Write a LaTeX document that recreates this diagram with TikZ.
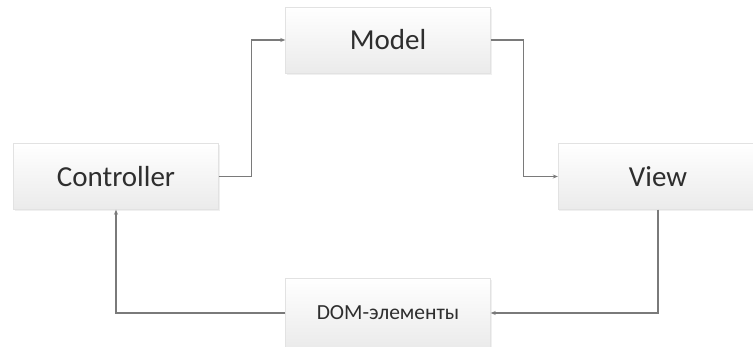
\documentclass[tikz,border=0pt]{standalone}
\usepackage{fontspec}
\setmainfont{Carlito}
\usetikzlibrary{shadows,arrows.meta}
\definecolor{boxline}{HTML}{E2E2E2}
\definecolor{wire}{HTML}{7A7A7A}
\definecolor{ink}{HTML}{2E2E2E}
\tikzset{
  block/.style={rectangle, draw=boxline, top color=white, bottom color=black!8,
    drop shadow={opacity=0.12, shadow xshift=1pt, shadow yshift=-2pt},
    minimum width=205pt, minimum height=66pt, inner sep=0pt, text=ink,
    font=\fontsize{29}{34}\selectfont},
  wireline/.style={draw=wire, line width=1.3pt, -{Stealth[length=5pt,width=4pt]}}
}
\begin{document}
\begin{tikzpicture}[x=1pt,y=-1pt]
\useasboundingbox (0,0) rectangle (753,347);
\node[block] (model) at (388,40) {Model};
\node[block] (ctrl) at (116,176.5) {Controller};
\node[block, minimum width=200pt] (view) at (658,176.5) {View};
\node[block, minimum height=70pt, font=\fontsize{21.5}{25}\selectfont] (dom) at (388,313) {DOM-элементы};
\draw[wireline] (ctrl.east) -- ++(33,0) |- (model.west);
\draw[wireline] (model.east) -- ++(33,0) |- (view.west);
\draw[wireline] (view.south) |- (dom.east);
\draw[wireline] (dom.west) -| (ctrl.south);
\end{tikzpicture}
\end{document}
